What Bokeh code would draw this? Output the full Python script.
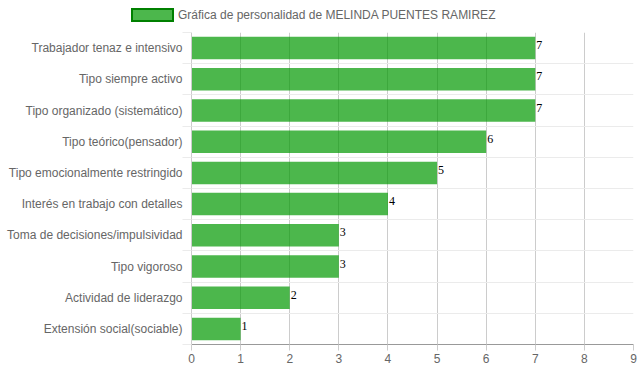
from bokeh.plotting import figure
from bokeh.layouts import column
from bokeh.models import (Range1d, FixedTicker, ColumnDataSource, CustomJSTickFormatter, Div)
from bokeh.core.properties import value
from bokeh.embed import file_html
from bokeh.resources import INLINE

categories = [
    "Trabajador tenaz e intensivo",
    "Tipo siempre activo",
    "Tipo organizado (sistemático)",
    "Tipo teórico(pensador)",
    "Tipo emocionalmente restringido",
    "Interés en trabajo con detalles",
    "Toma de decisiones/impulsividad",
    "Tipo vigoroso",
    "Actividad de liderazgo",
    "Extensión social(sociable)",
]
scores = [7, 7, 7, 6, 5, 4, 3, 3, 2, 1]
x_ticks = [0, 1, 2, 3, 4, 5, 6, 7, 8, 9]
series_name = "Gráfica de personalidad de MELINDA PUENTES RAMIREZ"

n = len(categories)
pos = list(range(n))
bounds = [i - 0.5 for i in range(n + 1)]
src = ColumnDataSource(dict(y=pos, x=scores, label=[str(v) for v in scores]))

# ---- legend header (HTML) ----
legend_html = (
    '<div style="position:relative;width:639px;height:32px;">'
    '<span style="position:absolute;left:131px;top:8px;width:43px;height:14px;'
    'box-sizing:border-box;background:rgba(0,153,0,0.7);border:2px solid #008000;"></span>'
    '<span style="position:absolute;left:178px;top:8px;line-height:14px;white-space:nowrap;'
    "font-family:'Liberation Sans',Arial,sans-serif;font-size:12px;color:#666666;\">"
    + series_name + '</span></div>'
)
head = Div(text=legend_html, width=639, height=32, margin=(0, 0, 0, 0))

# ---- main chart ----
p = figure(width=639, height=340, output_backend="svg", toolbar_location=None,
           x_range=Range1d(x_ticks[0], x_ticks[-1]), y_range=Range1d(n - 0.5, -0.5),
           min_border_left=191, min_border_right=6, min_border_top=0, min_border_bottom=28)
p.outline_line_color = None
p.background_fill_color = "white"

p.hbar(y="y", right="x", left=0, height=0.72, source=src,
       fill_color="#009900", fill_alpha=0.7, line_color=None)
p.text(x="x", y="y", text="label", source=src, x_offset=1, y_offset=-3,
       text_font=value("Liberation Serif"), text_font_size="12px",
       text_baseline="middle", text_align="left", text_color="black")

# x axis
p.xaxis.ticker = FixedTicker(ticks=x_ticks)
p.xgrid.ticker = FixedTicker(ticks=x_ticks)
p.xgrid.grid_line_color = "#cccccc"
p.xaxis.axis_line_color = "#999999"
p.xaxis.major_tick_line_color = "#cccccc"
p.xaxis.major_tick_out = 6
p.xaxis.major_tick_in = 0
p.xaxis.minor_tick_line_color = None
p.xaxis.major_label_standoff = 3
p.xaxis.major_label_text_font = "Liberation Sans"
p.xaxis.major_label_text_font_size = "12px"
p.xaxis.major_label_text_color = "#666666"

# y axis
p.yaxis.ticker = FixedTicker(ticks=pos, minor_ticks=bounds)
p.yaxis.formatter = CustomJSTickFormatter(
    args=dict(labels=categories),
    code="const v = labels[Math.round(tick)]; return v === undefined ? '' : v;")
p.yaxis.major_tick_line_color = None
p.yaxis.major_tick_out = 0
p.yaxis.major_tick_in = 0
p.yaxis.minor_tick_out = 9
p.yaxis.minor_tick_in = 0
p.yaxis.minor_tick_line_color = "#ebebeb"
p.yaxis.axis_line_color = "#cccccc"
p.yaxis.major_label_standoff = 0
p.yaxis.major_label_text_font = "Liberation Sans"
p.yaxis.major_label_text_font_size = "12px"
p.yaxis.major_label_text_color = "#666666"
p.ygrid.ticker = FixedTicker(ticks=bounds)
p.ygrid.grid_line_color = "#ebebeb"

layout = column(head, p, spacing=0)
open("out.html", "w").write(file_html(layout, INLINE))
